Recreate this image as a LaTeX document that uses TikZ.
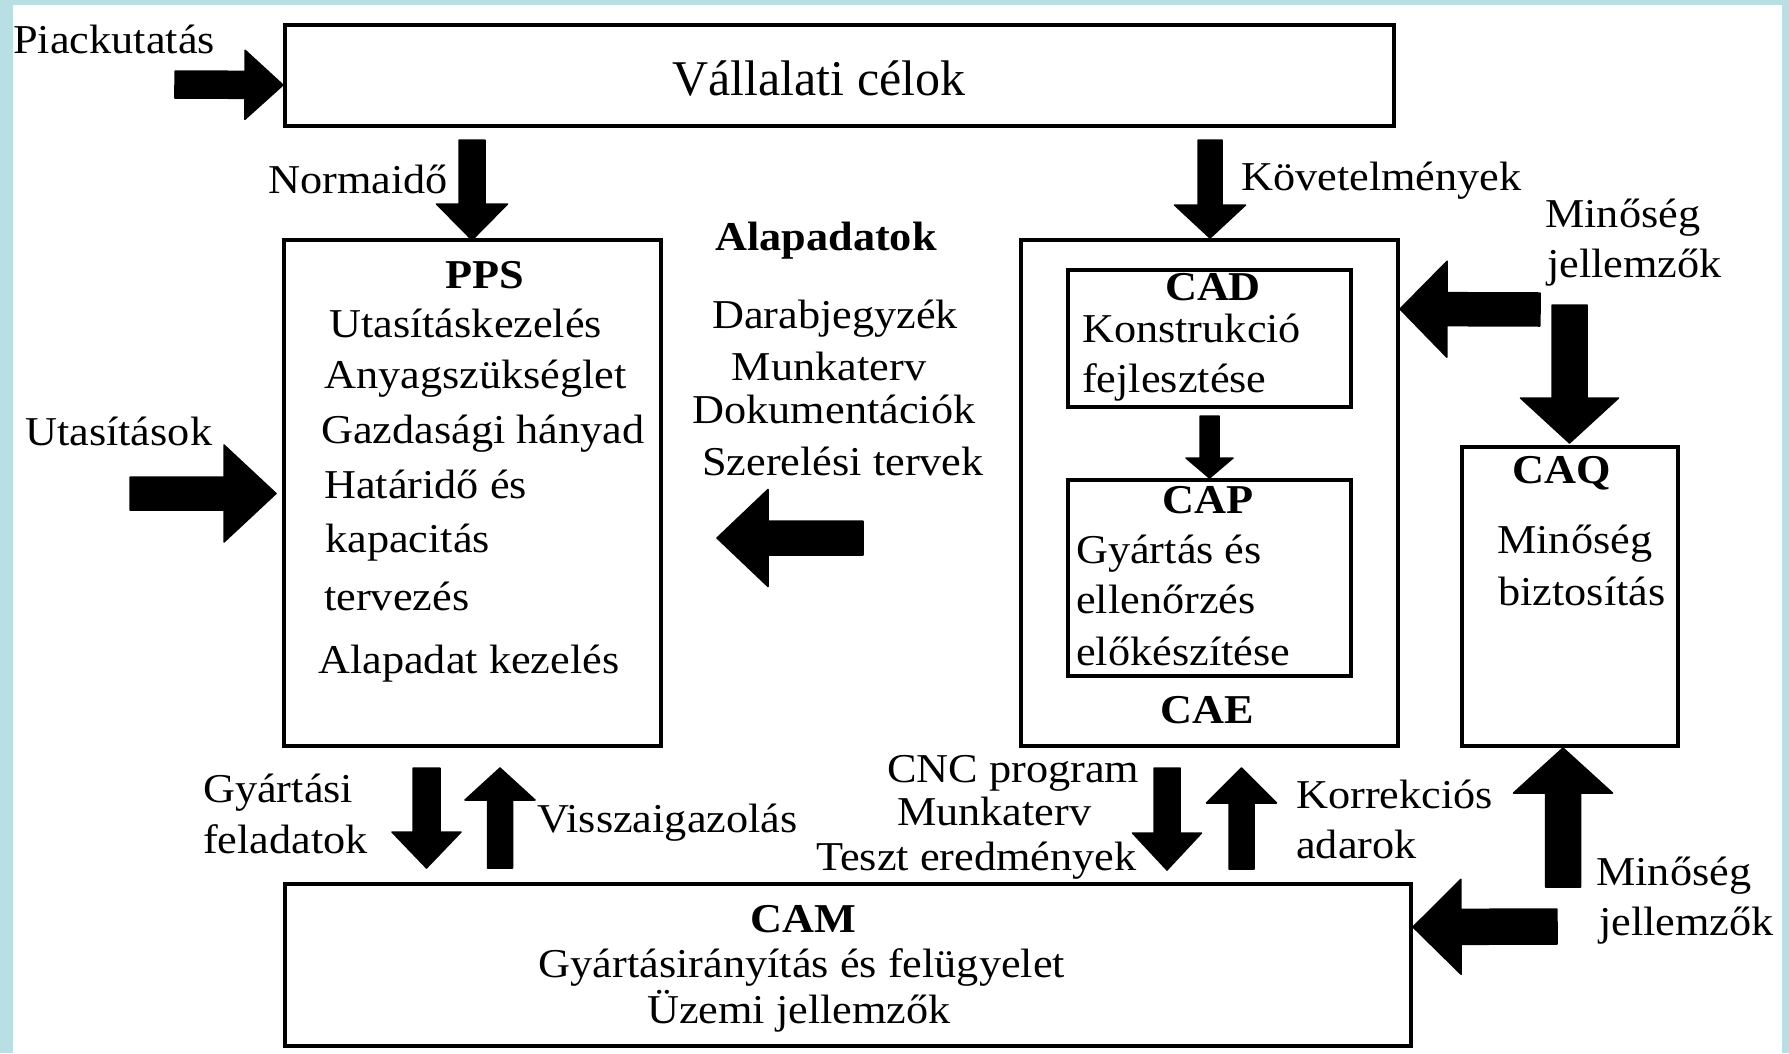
\documentclass[tikz,border=0pt]{standalone}
\usepackage{fontspec}
\setmainfont{Liberation Serif}[FakeStretch=1.08]
\newfontfamily\headfont{Liberation Serif}
\usetikzlibrary{calc}
\definecolor{framebg}{RGB}{184,224,228}
\newcommand\fs{\fontsize{41}{49}\selectfont}
\tikzset{
  box/.style={draw, line width=4pt, rectangle, inner sep=0pt},
  lbl/.style={anchor=base west, inner sep=0pt, font=\fs},
  ctr/.style={anchor=base, inner sep=0pt, font=\fs},
  ttl/.style={anchor=base, inner sep=0pt, font=\fs\bfseries},
  arrowbody/.style={fill=black, draw=black, line width=1.5pt, line join=round},
}
% block arrow: tail, tip, half shaft width, half head width, head length
\newcommand\blockarrow[5]{%
  \path[arrowbody] ($(#1)!#3!90:(#2)$) -- ($(#2)!#5!(#1)!#3!-90:(#1)$)
    -- ($(#2)!#5!(#1)!#4!-90:(#1)$) -- (#2)
    -- ($(#2)!#5!(#1)!#4!90:(#1)$) -- ($(#2)!#5!(#1)!#3!90:(#1)$)
    -- ($(#1)!#3!-90:(#2)$) -- cycle;}
\begin{document}
\begin{tikzpicture}[x=1pt, y=-1pt]
% frame
\fill[framebg] (0,0) rectangle (1789,1053);
\fill[white] (13,5) rectangle (1782,1053);
\useasboundingbox (0,0) rectangle (1789,1053);

% boxes
\node[box, minimum width=1109pt, minimum height=101pt] (vc) at (839.5,75.5) {};
\node[box, minimum width=377pt, minimum height=506pt] (pps) at (472.5,493) {};
\node[box, minimum width=377pt, minimum height=506pt] (cae) at (1209.5,493) {};
\node[box, minimum width=283pt, minimum height=137pt] (cad) at (1209.5,338.5) {};
\node[box, minimum width=283pt, minimum height=196pt] (cap) at (1209.5,578) {};
\node[box, minimum width=216pt, minimum height=299pt] (caq) at (1570,596.5) {};
\node[box, minimum width=1126pt, minimum height=162pt] (cam) at (848,965) {};

% top box
\node[anchor=base, inner sep=0pt, font=\headfont\fontsize{50}{60}\selectfont] (vctext) at (819,95) {Vállalati célok};

% labels outside the boxes
\node[lbl] (piack) at (13,53) {Piackutatás};
\node[lbl] (norma) at (268,193) {Normaidő};
\node[lbl] (kovet) at (1241,190) {Követelmények};
\node[lbl] (utas) at (25,445) {Utasítások};
\node[ttl] (alap) at (826,250) {Alapadatok};
\node[ctr] (alap1) at (835,328) {Darabjegyzék};
\node[ctr] (alap2) at (829,380) {Munkaterv};
\node[ctr] (alap3) at (834,423) {Dokumentációk};
\node[ctr] (alap4) at (843,475) {Szerelési tervek};
\node[lbl] (minA1) at (1545,227) {Minőség};
\node[lbl] (minA2) at (1547,277) {jellemzők};
\node[lbl] (gyf1) at (203,802) {Gyártási};
\node[lbl] (gyf2) at (203,853) {feladatok};
\node[lbl] (vissza) at (537,832) {Visszaigazolás};
\node[lbl] (cnc1) at (887,782) {CNC program};
\node[lbl] (cnc2) at (897,825) {Munkaterv};
\node[lbl] (cnc3) at (816,870) {Teszt eredmények};
\node[lbl] (korr1) at (1296,808) {Korrekciós};
\node[lbl] (korr2) at (1296,858) {adarok};
\node[lbl] (minB1) at (1596,885) {Minőség};
\node[lbl] (minB2) at (1599,935) {jellemzők};

% PPS contents
\node[ttl] (ppst) at (485,288) {PPS};
\node[lbl] (pps1) at (329,337) {Utasításkezelés};
\node[lbl] (pps2) at (324,388) {Anyagszükséglet};
\node[lbl] (pps3) at (321,443) {Gazdasági hányad};
\node[lbl] (pps4) at (324,498) {Határidő és};
\node[lbl] (pps5) at (325,552) {kapacitás};
\node[lbl] (pps6) at (324,610) {tervezés};
\node[lbl] (pps7) at (318,673) {Alapadat kezelés};

% CAE contents
\node[ttl] (cadt) at (1213,300) {CAD};
\node[lbl] (cad1) at (1082,342) {Konstrukció};
\node[lbl] (cad2) at (1082,392) {fejlesztése};
\node[ttl] (capt) at (1208,513) {CAP};
\node[lbl] (cap1) at (1076,563) {Gyártás és};
\node[lbl] (cap2) at (1076,613) {ellenőrzés};
\node[lbl] (cap3) at (1076,665) {előkészítése};
\node[ttl] (caet) at (1207,723) {CAE};

% CAQ contents
\node[ttl] (caqt) at (1562,483) {CAQ};
\node[lbl] (caq1) at (1497,553) {Minőség};
\node[lbl] (caq2) at (1498,605) {biztosítás};

% CAM contents
\node[ttl] (camt) at (803,932) {CAM};
\node[ctr] (cam1) at (802,977) {Gyártásirányítás és felügyelet};
\node[ctr] (cam2) at (799,1023) {Üzemi jellemzők};

% arrow ends
\coordinate (pk-t) at (175,84.5);   \coordinate (pk-h) at (vc.west |- 0,85);
\coordinate (no-t) at (472,140);    \coordinate (no-h) at (472,240);
\coordinate (ko-t) at (1210,140);   \coordinate (ko-h) at (1210,238);
\coordinate (ut-t) at (130,493.5);  \coordinate (ut-h) at (276,493.5);
\coordinate (al-t) at (863,538);    \coordinate (al-h) at (717,538);
\coordinate (cc-t) at (1209.5,416); \coordinate (cc-h) at (cap.north);
\coordinate (ma-t) at (1540,309.5); \coordinate (ma-h) at (cae.east |- 0,309);
\coordinate (mq-t) at (1569.5,305); \coordinate (mq-h) at (1569.5,443);
\coordinate (mu-t) at (1563,887);   \coordinate (mu-h) at (1563,748);
\coordinate (mb-t) at (1557,926.5); \coordinate (mb-h) at (cam.east |- 0,927);
\coordinate (gy-t) at (426.5,768);  \coordinate (gy-h) at (426.5,868);
\coordinate (vi-t) at (500,868);    \coordinate (vi-h) at (500,768);
\coordinate (cn-t) at (1167,768);   \coordinate (cn-h) at (1167,870);
\coordinate (ko2-t) at (1241.5,869);\coordinate (ko2-h) at (1241.5,768);

% block arrows
\blockarrow{pk-t}{pk-h}{13.5pt}{34.5pt}{38pt}
\blockarrow{no-t}{no-h}{13pt}{35.5pt}{36pt}
\blockarrow{ko-t}{ko-h}{12pt}{35.5pt}{33pt}
\blockarrow{ut-t}{ut-h}{16.5pt}{48.5pt}{52pt}
\blockarrow{al-t}{al-h}{17pt}{48.5pt}{51pt}
\blockarrow{cc-t}{cc-h}{9.5pt}{23.5pt}{20pt}
\blockarrow{ma-t}{ma-h}{16.5pt}{48pt}{47pt}
\blockarrow{mq-t}{mq-h}{17.5pt}{49pt}{45pt}
\blockarrow{mu-t}{mu-h}{17.5pt}{49.5pt}{45pt}
\blockarrow{mb-t}{mb-h}{17.5pt}{47.5pt}{48pt}
\blockarrow{gy-t}{gy-h}{13.5pt}{34.5pt}{36pt}
\blockarrow{vi-t}{vi-h}{12.5pt}{35pt}{32pt}
\blockarrow{cn-t}{cn-h}{13pt}{34.5pt}{37pt}
\blockarrow{ko2-t}{ko2-h}{12.5pt}{35pt}{35pt}
\end{tikzpicture}
\end{document}
